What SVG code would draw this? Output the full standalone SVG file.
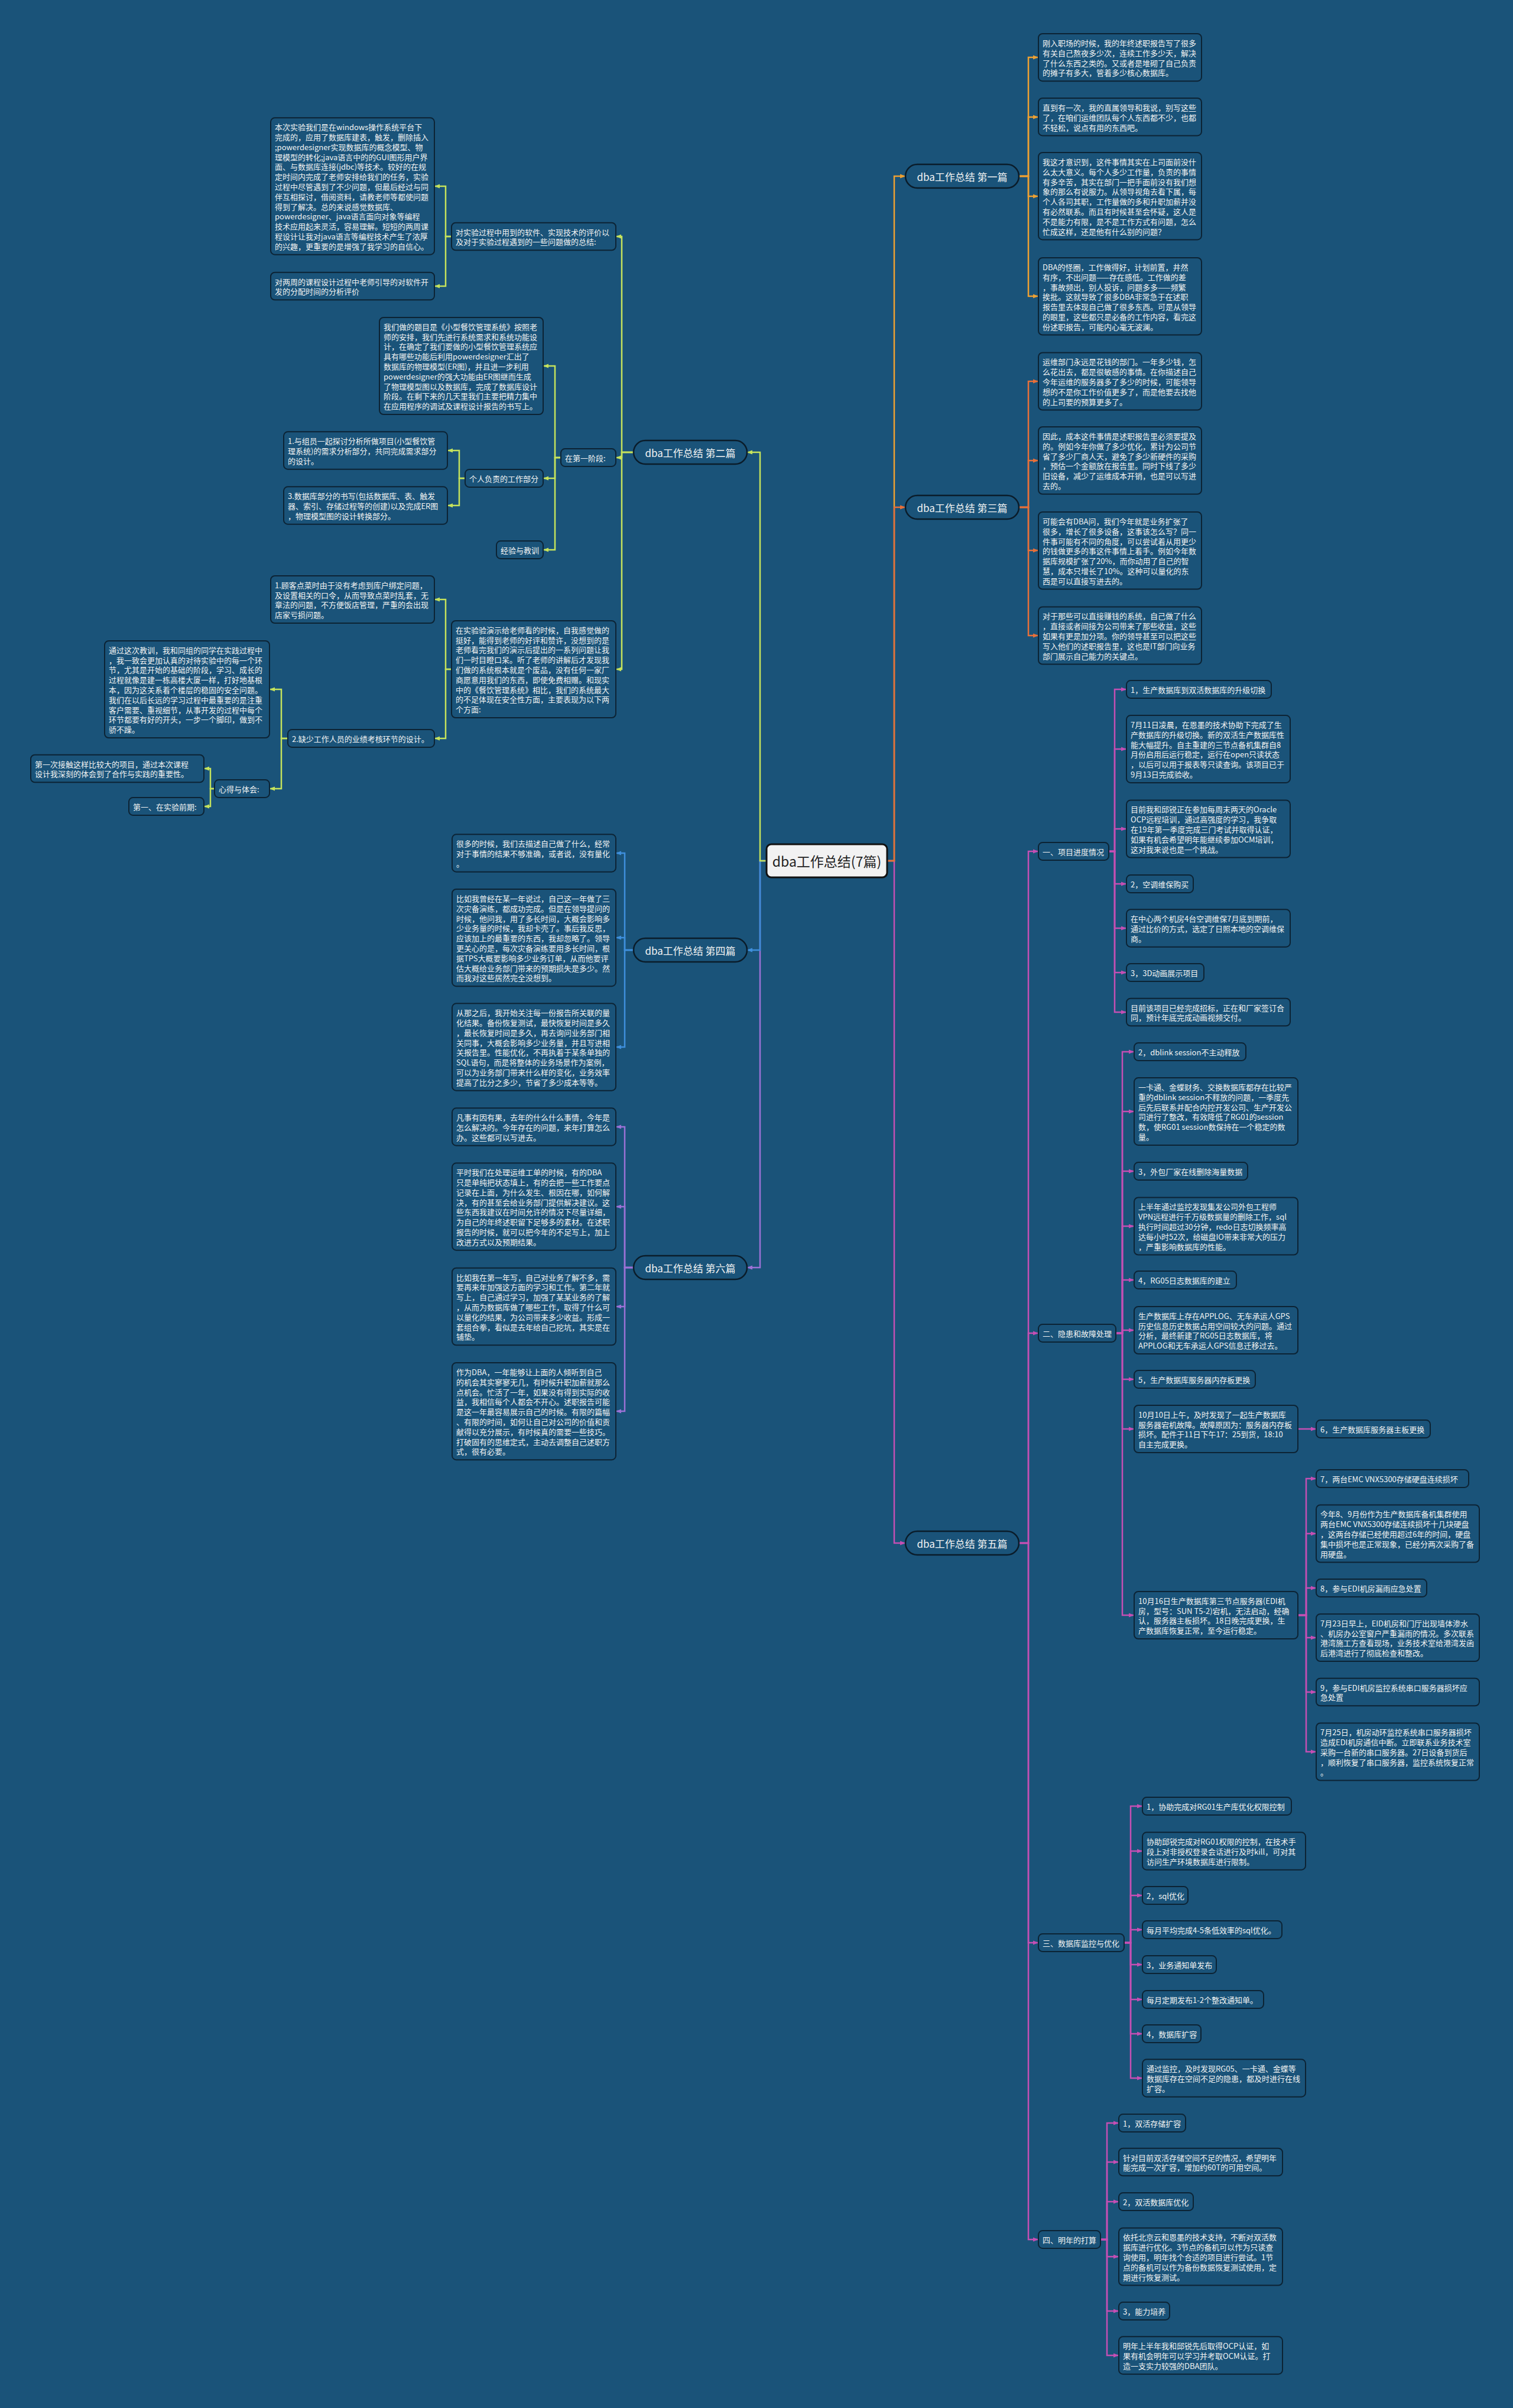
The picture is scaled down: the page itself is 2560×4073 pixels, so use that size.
<svg xmlns="http://www.w3.org/2000/svg" width="2560" height="4073" viewBox="0 0 2560 4073">
<defs>
<style>
.bx{fill:#1a5379;stroke:#0c2334;stroke-width:2}
.pl{fill:#1a5379;stroke:#0a1c2a;stroke-width:2.5}
.tx{font-family:"Noto Sans CJK SC","Noto Sans",sans-serif;font-size:13px;fill:#f3f3f3;dominant-baseline:central}
.pt{font-family:"Noto Sans CJK SC","Noto Sans",sans-serif;font-size:17px;fill:#f3f3f3;dominant-baseline:central;text-anchor:middle}
.c1{fill:none;stroke:#efa132;stroke-width:2.5;marker-end:url(#m1)}
.c2{fill:none;stroke:#c6e35c;stroke-width:2.5;marker-end:url(#m2)}
.c3{fill:none;stroke:#e8703a;stroke-width:2.5;marker-end:url(#m3)}
.c4{fill:none;stroke:#3f8fdc;stroke-width:2.5;marker-end:url(#m4)}
.c5{fill:none;stroke:#c54fb4;stroke-width:2.5;marker-end:url(#m5)}
.c6{fill:none;stroke:#9b72d6;stroke-width:2.5;marker-end:url(#m6)}
</style>
<marker id="m1" viewBox="0 0 10 10" refX="10" refY="5" markerWidth="9" markerHeight="9" markerUnits="userSpaceOnUse" orient="auto"><path d="M0,1L10,5L0,9z" fill="#efa132"/></marker>
<marker id="m2" viewBox="0 0 10 10" refX="10" refY="5" markerWidth="9" markerHeight="9" markerUnits="userSpaceOnUse" orient="auto"><path d="M0,1L10,5L0,9z" fill="#c6e35c"/></marker>
<marker id="m3" viewBox="0 0 10 10" refX="10" refY="5" markerWidth="9" markerHeight="9" markerUnits="userSpaceOnUse" orient="auto"><path d="M0,1L10,5L0,9z" fill="#e8703a"/></marker>
<marker id="m4" viewBox="0 0 10 10" refX="10" refY="5" markerWidth="9" markerHeight="9" markerUnits="userSpaceOnUse" orient="auto"><path d="M0,1L10,5L0,9z" fill="#3f8fdc"/></marker>
<marker id="m5" viewBox="0 0 10 10" refX="10" refY="5" markerWidth="9" markerHeight="9" markerUnits="userSpaceOnUse" orient="auto"><path d="M0,1L10,5L0,9z" fill="#c54fb4"/></marker>
<marker id="m6" viewBox="0 0 10 10" refX="10" refY="5" markerWidth="9" markerHeight="9" markerUnits="userSpaceOnUse" orient="auto"><path d="M0,1L10,5L0,9z" fill="#9b72d6"/></marker>
</defs>
<rect x="0" y="0" width="2560" height="4073" fill="#1a5379"/>

<g id="connectors">
<path class="c5" d="M1501,1456H1513V2610H1532"/>
<path class="c1" d="M1501,1456H1513V298H1532"/>
<path class="c3" d="M1501,1456H1513V858H1532"/>
<path class="c6" d="M1297,1456H1286V2144H1264"/>
<path class="c4" d="M1297,1456H1286V1607H1264"/>
<path class="c2" d="M1297,1456H1286V765H1264"/>
<path class="c1" d="M1724,298H1740V97H1757"/>
<path class="c1" d="M1724,298H1740V198H1757"/>
<path class="c1" d="M1724,298H1740V332H1757"/>
<path class="c1" d="M1724,298H1740V501H1757"/>
<path class="c3" d="M1724,858H1740V645H1757"/>
<path class="c3" d="M1724,858H1740V779H1757"/>
<path class="c3" d="M1724,858H1740V931H1757"/>
<path class="c3" d="M1724,858H1740V1075H1757"/>
<path class="c4" d="M1072,1607H1057V1443H1042"/>
<path class="c4" d="M1072,1607H1057V1586H1042"/>
<path class="c4" d="M1072,1607H1057V1771H1042"/>
<path class="c6" d="M1072,2144H1057V1906H1042"/>
<path class="c6" d="M1072,2144H1057V2041H1042"/>
<path class="c6" d="M1072,2144H1057V2210H1042"/>
<path class="c6" d="M1072,2144H1057V2387H1042"/>
<path class="c2" d="M1072,765H1052V400H1042"/>
<path class="c2" d="M1072,765H1052V774H1042"/>
<path class="c2" d="M1072,765H1052V1132H1042"/>
<path class="c2" d="M764,400H754V315H735"/>
<path class="c2" d="M764,400H754V484H735"/>
<path class="c2" d="M949,774H939V619H919"/>
<path class="c2" d="M949,774H939V809H919"/>
<path class="c2" d="M949,774H939V930H919"/>
<path class="c2" d="M787,809H777V762H757"/>
<path class="c2" d="M787,809H777V855H757"/>
<path class="c2" d="M764,1132H754V1014H735"/>
<path class="c2" d="M764,1132H754V1249H735"/>
<path class="c2" d="M487,1249H476V1166H456"/>
<path class="c2" d="M487,1249H476V1334H456"/>
<path class="c2" d="M363,1334H356V1300H345"/>
<path class="c2" d="M363,1334H356V1364H345"/>
<path class="c5" d="M1724,2610H1740V1440H1757"/>
<path class="c5" d="M1724,2610H1740V2255H1757"/>
<path class="c5" d="M1724,2610H1740V3286H1757"/>
<path class="c5" d="M1724,2610H1740V3788H1757"/>
<path class="c5" d="M1876,1440H1886V1166H1906"/>
<path class="c5" d="M1876,1440H1886V1267H1906"/>
<path class="c5" d="M1876,1440H1886V1402H1906"/>
<path class="c5" d="M1876,1440H1886V1495H1906"/>
<path class="c5" d="M1876,1440H1886V1570H1906"/>
<path class="c5" d="M1876,1440H1886V1645H1906"/>
<path class="c5" d="M1876,1440H1886V1712H1906"/>
<path class="c5" d="M1888,2255H1899V1779H1919"/>
<path class="c5" d="M1888,2255H1899V1880H1919"/>
<path class="c5" d="M1888,2255H1899V1981H1919"/>
<path class="c5" d="M1888,2255H1899V2074H1919"/>
<path class="c5" d="M1888,2255H1899V2165H1919"/>
<path class="c5" d="M1888,2255H1899V2250H1919"/>
<path class="c5" d="M1888,2255H1899V2333H1919"/>
<path class="c5" d="M1888,2255H1899V2417H1919"/>
<path class="c5" d="M1888,2255H1899V2732H1919"/>
<path class="c5" d="M2196,2417H2227"/>
<path class="c5" d="M2196,2732H2210V2501H2227"/>
<path class="c5" d="M2196,2732H2210V2594H2227"/>
<path class="c5" d="M2196,2732H2210V2686H2227"/>
<path class="c5" d="M2196,2732H2210V2770H2227"/>
<path class="c5" d="M2196,2732H2210V2862H2227"/>
<path class="c5" d="M2196,2732H2210V2963H2227"/>
<path class="c5" d="M1902,3286H1913V3055H1933"/>
<path class="c5" d="M1902,3286H1913V3131H1933"/>
<path class="c5" d="M1902,3286H1913V3206H1933"/>
<path class="c5" d="M1902,3286H1913V3264H1933"/>
<path class="c5" d="M1902,3286H1913V3323H1933"/>
<path class="c5" d="M1902,3286H1913V3382H1933"/>
<path class="c5" d="M1902,3286H1913V3440H1933"/>
<path class="c5" d="M1902,3286H1913V3515H1933"/>
<path class="c5" d="M1862,3788H1873V3591H1893"/>
<path class="c5" d="M1862,3788H1873V3657H1893"/>
<path class="c5" d="M1862,3788H1873V3724H1893"/>
<path class="c5" d="M1862,3788H1873V3817H1893"/>
<path class="c5" d="M1862,3788H1873V3909H1893"/>
<path class="c5" d="M1862,3788H1873V3984H1893"/>
</g>

<g id="root"><rect x="1297" y="1428" width="204" height="56" rx="8" fill="#f2f2f2" stroke="#111" stroke-width="3"/><text x="1399" y="1456" font-family="Noto Sans CJK SC, sans-serif" font-size="23" fill="#222" text-anchor="middle" dominant-baseline="central">dba工作总结(7篇)</text></g>

<g id="b1"><rect class="pl" x="1532" y="278" width="192" height="40" rx="20"/><text class="pt" x="1628" y="298">dba工作总结 第一篇</text></g>
<g id="b3"><rect class="pl" x="1532" y="838" width="192" height="40" rx="20"/><text class="pt" x="1628" y="858">dba工作总结 第三篇</text></g>
<g id="b5"><rect class="pl" x="1532" y="2590" width="192" height="40" rx="20"/><text class="pt" x="1628" y="2610">dba工作总结 第五篇</text></g>
<g id="b2"><rect class="pl" x="1072" y="745" width="192" height="40" rx="20"/><text class="pt" x="1168" y="765">dba工作总结 第二篇</text></g>
<g id="b4"><rect class="pl" x="1072" y="1587" width="192" height="40" rx="20"/><text class="pt" x="1168" y="1607">dba工作总结 第四篇</text></g>
<g id="b6"><rect class="pl" x="1072" y="2124" width="192" height="40" rx="20"/><text class="pt" x="1168" y="2144">dba工作总结 第六篇</text></g>

<g id="n1a"><rect class="bx" x="1757" y="57" width="276" height="80.2" rx="7"/><text class="tx" x="1764" y="71.9"><tspan x="1764">刚入职场的时候，我的年终述职报告写了很多</tspan><tspan x="1764" dy="16.8">有关自己熬夜多少次，连续工作多少天，解决</tspan><tspan x="1764" dy="16.8">了什么东西之类的。又或者是堆砌了自己负责</tspan><tspan x="1764" dy="16.8">的摊子有多大，管着多少核心数据库。</tspan></text></g>
<g id="n1b"><rect class="bx" x="1757" y="166" width="276" height="63.4" rx="7"/><text class="tx" x="1764" y="180.9"><tspan x="1764">直到有一次，我的直属领导和我说，别写这些</tspan><tspan x="1764" dy="16.8">了，在咱们运维团队每个人东西都不少，也都</tspan><tspan x="1764" dy="16.8">不轻松，说点有用的东西吧。</tspan></text></g>
<g id="n1c"><rect class="bx" x="1757" y="258" width="276" height="147.4" rx="7"/><text class="tx" x="1764" y="272.9"><tspan x="1764">我这才意识到，这件事情其实在上司面前没什</tspan><tspan x="1764" dy="16.8">么太大意义。每个人多少工作量，负责的事情</tspan><tspan x="1764" dy="16.8">有多辛苦，其实在部门一把手面前没有我们想</tspan><tspan x="1764" dy="16.8">象的那么有说服力。从领导视角去看下属，每</tspan><tspan x="1764" dy="16.8">个人各司其职，工作量做的多和升职加薪并没</tspan><tspan x="1764" dy="16.8">有必然联系。而且有时候甚至会怀疑，这人是</tspan><tspan x="1764" dy="16.8">不是能力有限，是不是工作方式有问题，怎么</tspan><tspan x="1764" dy="16.8">忙成这样，还是他有什么别的问题？</tspan></text></g>
<g id="n1d"><rect class="bx" x="1757" y="436" width="276" height="130.6" rx="7"/><text class="tx" x="1764" y="450.9"><tspan x="1764">DBA的怪圈，工作做得好，计划前置，井然</tspan><tspan x="1764" dy="16.8">有序，不出问题——存在感低。工作做的差</tspan><tspan x="1764" dy="16.8">，事故频出，别人投诉，问题多多——频繁</tspan><tspan x="1764" dy="16.8">挨批。这就导致了很多DBA非常急于在述职</tspan><tspan x="1764" dy="16.8">报告里去体现自己做了很多东西。可是从领导</tspan><tspan x="1764" dy="16.8">的眼里，这些都只是必备的工作内容，看完这</tspan><tspan x="1764" dy="16.8">份述职报告，可能内心毫无波澜。</tspan></text></g>

<g id="n3a"><rect class="bx" x="1757" y="596.5" width="276" height="97" rx="7"/><text class="tx" x="1764" y="611.4"><tspan x="1764">运维部门永远是花钱的部门。一年多少钱，怎</tspan><tspan x="1764" dy="16.8">么花出去，都是很敏感的事情。在你描述自己</tspan><tspan x="1764" dy="16.8">今年运维的服务器多了多少的时候，可能领导</tspan><tspan x="1764" dy="16.8">想的不是你工作价值更多了，而是他要去找他</tspan><tspan x="1764" dy="16.8">的上司要的预算更多了。</tspan></text></g>
<g id="n3b"><rect class="bx" x="1757" y="722" width="276" height="113.8" rx="7"/><text class="tx" x="1764" y="736.9"><tspan x="1764">因此，成本这件事情是述职报告里必须要提及</tspan><tspan x="1764" dy="16.8">的。例如今年你做了多少优化，累计为公司节</tspan><tspan x="1764" dy="16.8">省了多少厂商人天，避免了多少新硬件的采购</tspan><tspan x="1764" dy="16.8">，预估一个金额放在报告里。同时下线了多少</tspan><tspan x="1764" dy="16.8">旧设备，减少了运维成本开销，也是可以写进</tspan><tspan x="1764" dy="16.8">去的。</tspan></text></g>
<g id="n3c"><rect class="bx" x="1757" y="866" width="276" height="130.6" rx="7"/><text class="tx" x="1764" y="880.9"><tspan x="1764">可能会有DBA问，我们今年就是业务扩张了</tspan><tspan x="1764" dy="16.8">很多，增长了很多设备，这事该怎么写？同一</tspan><tspan x="1764" dy="16.8">件事可能有不同的角度，可以尝试着从用更少</tspan><tspan x="1764" dy="16.8">的钱做更多的事这件事情上着手。例如今年数</tspan><tspan x="1764" dy="16.8">据库规模扩张了20%，而你动用了自己的智</tspan><tspan x="1764" dy="16.8">慧，成本只增长了10%。这种可以量化的东</tspan><tspan x="1764" dy="16.8">西是可以直接写进去的。</tspan></text></g>
<g id="n3d"><rect class="bx" x="1757" y="1026.5" width="276" height="97" rx="7"/><text class="tx" x="1764" y="1041.4"><tspan x="1764">对于那些可以直接赚钱的系统，自己做了什么</tspan><tspan x="1764" dy="16.8">，直接或者间接为公司带来了那些收益，这些</tspan><tspan x="1764" dy="16.8">如果有更是加分项。你的领导甚至可以把这些</tspan><tspan x="1764" dy="16.8">写入他们的述职报告里，这也是IT部门向业务</tspan><tspan x="1764" dy="16.8">部门展示自己能力的关键点。</tspan></text></g>

<g id="n4a"><rect class="bx" x="765" y="1411.3" width="277" height="63.4" rx="7"/><text class="tx" x="772" y="1426.2"><tspan x="772">很多的时候，我们去描述自己做了什么，经常</tspan><tspan x="772" dy="16.8">对于事情的结果不够准确，或者说，没有量化</tspan><tspan x="772" dy="16.8">。</tspan></text></g>
<g id="n4b"><rect class="bx" x="765" y="1504" width="277" height="164.2" rx="7"/><text class="tx" x="772" y="1518.9"><tspan x="772">比如我曾经在某一年说过，自己这一年做了三</tspan><tspan x="772" dy="16.8">次灾备演练，都成功完成。但是在领导提问的</tspan><tspan x="772" dy="16.8">时候，他问我，用了多长时间，大概会影响多</tspan><tspan x="772" dy="16.8">少业务量的时候，我却卡壳了。事后我反思，</tspan><tspan x="772" dy="16.8">应该加上的最重要的东西，我却忽略了。领导</tspan><tspan x="772" dy="16.8">更关心的是，每次灾备演练要用多长时间，根</tspan><tspan x="772" dy="16.8">据TPS大概要影响多少业务订单，从而他要评</tspan><tspan x="772" dy="16.8">估大概给业务部门带来的预期损失是多少。然</tspan><tspan x="772" dy="16.8">而我对这些居然完全没想到。</tspan></text></g>
<g id="n4c"><rect class="bx" x="765" y="1697.3" width="277" height="147.4" rx="7"/><text class="tx" x="772" y="1712.2"><tspan x="772">从那之后，我开始关注每一份报告所关联的量</tspan><tspan x="772" dy="16.8">化结果。备份恢复测试，最快恢复时间是多久</tspan><tspan x="772" dy="16.8">，最长恢复时间是多久，再去询问业务部门相</tspan><tspan x="772" dy="16.8">关同事，大概会影响多少业务量，并且写进相</tspan><tspan x="772" dy="16.8">关报告里。性能优化，不再执着于某条单独的</tspan><tspan x="772" dy="16.8">SQL语句，而是将整体的业务场景作为案例，</tspan><tspan x="772" dy="16.8">可以为业务部门带来什么样的变化，业务效率</tspan><tspan x="772" dy="16.8">提高了比分之多少，节省了多少成本等等。</tspan></text></g>

<g id="n6a"><rect class="bx" x="765" y="1874.3" width="277" height="63.4" rx="7"/><text class="tx" x="772" y="1889.2"><tspan x="772">凡事有因有果，去年的什么什么事情，今年是</tspan><tspan x="772" dy="16.8">怎么解决的。今年存在的问题，来年打算怎么</tspan><tspan x="772" dy="16.8">办。这些都可以写进去。</tspan></text></g>
<g id="n6b"><rect class="bx" x="765" y="1967.3" width="277" height="147.4" rx="7"/><text class="tx" x="772" y="1982.2"><tspan x="772">平时我们在处理运维工单的时候，有的DBA</tspan><tspan x="772" dy="16.8">只是单纯把状态填上，有的会把一些工作要点</tspan><tspan x="772" dy="16.8">记录在上面，为什么发生、根因在哪，如何解</tspan><tspan x="772" dy="16.8">决，有的甚至会给业务部门提供解决建议。这</tspan><tspan x="772" dy="16.8">些东西我建议在时间允许的情况下尽量详细，</tspan><tspan x="772" dy="16.8">为自己的年终述职留下足够多的素材。在述职</tspan><tspan x="772" dy="16.8">报告的时候，就可以把今年的不足写上，加上</tspan><tspan x="772" dy="16.8">改进方式以及预期结果。</tspan></text></g>
<g id="n6c"><rect class="bx" x="765" y="2144.7" width="277" height="130.6" rx="7"/><text class="tx" x="772" y="2159.6"><tspan x="772">比如我在第一年写，自己对业务了解不多，需</tspan><tspan x="772" dy="16.8">要再来年加强这方面的学习和工作。第二年就</tspan><tspan x="772" dy="16.8">写上，自己通过学习，加强了某某业务的了解</tspan><tspan x="772" dy="16.8">，从而为数据库做了哪些工作，取得了什么可</tspan><tspan x="772" dy="16.8">以量化的结果，为公司带来多少收益。形成一</tspan><tspan x="772" dy="16.8">套组合拳，看似是去年给自己挖坑，其实是在</tspan><tspan x="772" dy="16.8">铺垫。</tspan></text></g>
<g id="n6d"><rect class="bx" x="765" y="2305" width="277" height="164.2" rx="7"/><text class="tx" x="772" y="2319.9"><tspan x="772">作为DBA，一年能够让上面的人倾听到自己</tspan><tspan x="772" dy="16.8">的机会其实寥寥无几，有时候升职加薪就那么</tspan><tspan x="772" dy="16.8">点机会。忙活了一年，如果没有得到实际的收</tspan><tspan x="772" dy="16.8">益，我相信每个人都会不开心。述职报告可能</tspan><tspan x="772" dy="16.8">是这一年最容易展示自己的时候。有限的篇幅</tspan><tspan x="772" dy="16.8">、有限的时间，如何让自己对公司的价值和贡</tspan><tspan x="772" dy="16.8">献得以充分展示，有时候真的需要一些技巧。</tspan><tspan x="772" dy="16.8">打破固有的思维定式，主动去调整自己述职方</tspan><tspan x="772" dy="16.8">式，很有必要。</tspan></text></g>

<g id="n2a"><rect class="bx" x="764" y="376.7" width="278" height="46.6" rx="7"/><text class="tx" x="771" y="391.6"><tspan x="771">对实验过程中用到的软件、实现技术的评价以</tspan><tspan x="771" dy="16.8">及对于实验过程遇到的一些问题做的总结:</tspan></text></g>
<g id="n2a1"><rect class="bx" x="458" y="199.3" width="277" height="231.4" rx="7"/><text class="tx" x="465" y="214.2"><tspan x="465">本次实验我们是在windows操作系统平台下</tspan><tspan x="465" dy="16.8">完成的，应用了数据库建表，触发，删除插入</tspan><tspan x="465" dy="16.8">;powerdesigner实现数据库的概念模型、物</tspan><tspan x="465" dy="16.8">理模型的转化;java语言中的的GUI图形用户界</tspan><tspan x="465" dy="16.8">面、与数据库连接(jdbc)等技术。较好的在规</tspan><tspan x="465" dy="16.8">定时间内完成了老师安排给我们的任务，实验</tspan><tspan x="465" dy="16.8">过程中尽管遇到了不少问题，但最后经过与同</tspan><tspan x="465" dy="16.8">伴互相探讨，借阅资料，请教老师等都使问题</tspan><tspan x="465" dy="16.8">得到了解决。总的来说感觉数据库、</tspan><tspan x="465" dy="16.8">powerdesigner、java语言面向对象等编程</tspan><tspan x="465" dy="16.8">技术应用起来灵活，容易理解。短短的两周课</tspan><tspan x="465" dy="16.8">程设计让我对java语言等编程技术产生了浓厚</tspan><tspan x="465" dy="16.8">的兴趣，更重要的是增强了我学习的自信心。</tspan></text></g>
<g id="n2a2"><rect class="bx" x="458" y="460.7" width="277" height="46.6" rx="7"/><text class="tx" x="465" y="475.6"><tspan x="465">对两周的课程设计过程中老师引导的对软件开</tspan><tspan x="465" dy="16.8">发的分配时间的分析评价</tspan></text></g>
<g id="n2b"><rect class="bx" x="949" y="759.1" width="93" height="29.8" rx="7"/><text class="tx" x="956" y="774">在第一阶段:</text></g>
<g id="n2b1"><rect class="bx" x="642" y="536.9" width="277" height="164.2" rx="7"/><text class="tx" x="649" y="551.8"><tspan x="649">我们做的题目是《小型餐饮管理系统》按照老</tspan><tspan x="649" dy="16.8">师的安排，我们先进行系统需求和系统功能设</tspan><tspan x="649" dy="16.8">计，在确定了我们要做的小型餐饮管理系统应</tspan><tspan x="649" dy="16.8">具有哪些功能后利用powerdesigner汇出了</tspan><tspan x="649" dy="16.8">数据库的物理模型(ER图)，并且进一步利用</tspan><tspan x="649" dy="16.8">powerdesigner的强大功能由ER图继而生成</tspan><tspan x="649" dy="16.8">了物理模型图以及数据库，完成了数据库设计</tspan><tspan x="649" dy="16.8">阶段。在剩下来的几天里我们主要把精力集中</tspan><tspan x="649" dy="16.8">在应用程序的调试及课程设计报告的书写上。</tspan></text></g>
<g id="n2b2"><rect class="bx" x="787" y="794.1" width="132" height="29.8" rx="7"/><text class="tx" x="794" y="809">个人负责的工作部分</text></g>
<g id="n2b2a"><rect class="bx" x="480" y="730.3" width="277" height="63.4" rx="7"/><text class="tx" x="487" y="745.2"><tspan x="487">1.与组员一起探讨分析所做项目(小型餐饮管</tspan><tspan x="487" dy="16.8">理系统)的需求分析部分，共同完成需求部分</tspan><tspan x="487" dy="16.8">的设计。</tspan></text></g>
<g id="n2b2b"><rect class="bx" x="480" y="823.3" width="277" height="63.4" rx="7"/><text class="tx" x="487" y="838.2"><tspan x="487">3.数据库部分的书写(包括数据库、表、触发</tspan><tspan x="487" dy="16.8">器、索引、存储过程等的创建)以及完成ER图</tspan><tspan x="487" dy="16.8">，物理模型图的设计转换部分。</tspan></text></g>
<g id="n2b3"><rect class="bx" x="840" y="915.1" width="79" height="29.8" rx="7"/><text class="tx" x="847" y="930">经验与教训</text></g>
<g id="n2c"><rect class="bx" x="764" y="1049.9" width="278" height="164.2" rx="7"/><text class="tx" x="771" y="1064.8"><tspan x="771">在实验验演示给老师看的时候，自我感觉做的</tspan><tspan x="771" dy="16.8">挺好，能得到老师的好评和赞许，没想到的是</tspan><tspan x="771" dy="16.8">老师看完我们的演示后提出的一系列问题让我</tspan><tspan x="771" dy="16.8">们一时目瞪口呆。听了老师的讲解后才发现我</tspan><tspan x="771" dy="16.8">们做的系统根本就是个废品，没有任何一家厂</tspan><tspan x="771" dy="16.8">商愿意用我们的东西，即使免费相赠。和现实</tspan><tspan x="771" dy="16.8">中的《餐饮管理系统》相比，我们的系统最大</tspan><tspan x="771" dy="16.8">的不足体现在安全性方面，主要表现为以下两</tspan><tspan x="771" dy="16.8">个方面:</tspan></text></g>
<g id="n2c1"><rect class="bx" x="458" y="973.9" width="277" height="80.2" rx="7"/><text class="tx" x="465" y="988.8"><tspan x="465">1.顾客点菜时由于没有考虑到库户绑定问题，</tspan><tspan x="465" dy="16.8">及设置相关的口令，从而导致点菜时乱套，无</tspan><tspan x="465" dy="16.8">章法的问题，不方便饭店管理，严重的会出现</tspan><tspan x="465" dy="16.8">店家亏损问题。</tspan></text></g>
<g id="n2c2"><rect class="bx" x="487" y="1234.1" width="248" height="29.8" rx="7"/><text class="tx" x="494" y="1249">2.缺少工作人员的业绩考核环节的设计。</text></g>
<g id="n2c2a"><rect class="bx" x="177" y="1083.9" width="279" height="164.2" rx="7"/><text class="tx" x="184" y="1098.8"><tspan x="184">通过这次教训，我和同组的同学在实践过程中</tspan><tspan x="184" dy="16.8">，我一致会更加认真的对待实验中的每一个环</tspan><tspan x="184" dy="16.8">节，尤其是开始的基础的阶段，学习、成长的</tspan><tspan x="184" dy="16.8">过程就像是建一栋高楼大厦一样，打好地基根</tspan><tspan x="184" dy="16.8">本，因为这关系着个楼层的稳固的安全问题。</tspan><tspan x="184" dy="16.8">我们在以后长远的学习过程中最重要的是注重</tspan><tspan x="184" dy="16.8">客户需要、重视细节，从事开发的过程中每个</tspan><tspan x="184" dy="16.8">环节都要有好的开头，一步一个脚印，做到不</tspan><tspan x="184" dy="16.8">骄不躁。</tspan></text></g>
<g id="n2c2b"><rect class="bx" x="363" y="1319.1" width="93" height="29.8" rx="7"/><text class="tx" x="370" y="1334">心得与体会:</text></g>
<g id="n2c2b1"><rect class="bx" x="52" y="1276.7" width="293" height="46.6" rx="7"/><text class="tx" x="59" y="1291.6"><tspan x="59">第一次接触这样比较大的项目，通过本次课程</tspan><tspan x="59" dy="16.8">设计我深刻的体会到了合作与实践的重要性。</tspan></text></g>
<g id="n2c2b2"><rect class="bx" x="218" y="1349.1" width="127" height="29.8" rx="7"/><text class="tx" x="225" y="1364">第一、在实验前期:</text></g>

<g id="s1"><rect class="bx" x="1757" y="1425.1" width="119" height="29.8" rx="7"/><text class="tx" x="1764" y="1440">一、项目进度情况</text></g>
<g id="s1a"><rect class="bx" x="1906" y="1151.1" width="245" height="29.8" rx="7"/><text class="tx" x="1913" y="1166">1，生产数据库到双活数据库的升级切换</text></g>
<g id="s1b"><rect class="bx" x="1906" y="1210.1" width="277" height="113.8" rx="7"/><text class="tx" x="1913" y="1225"><tspan x="1913">7月11日凌晨，在恩墨的技术协助下完成了生</tspan><tspan x="1913" dy="16.8">产数据库的升级切换。新的双活生产数据库性</tspan><tspan x="1913" dy="16.8">能大幅提升。自主重建的三节点备机集群自8</tspan><tspan x="1913" dy="16.8">月份启用后运行稳定，运行在open只读状态</tspan><tspan x="1913" dy="16.8">，以后可以用于报表等只读查询。该项目已于</tspan><tspan x="1913" dy="16.8">9月13日完成验收。</tspan></text></g>
<g id="s1c"><rect class="bx" x="1906" y="1353.5" width="277" height="97" rx="7"/><text class="tx" x="1913" y="1368.4"><tspan x="1913">目前我和邱锐正在参加每周末两天的Oracle</tspan><tspan x="1913" dy="16.8">OCP远程培训，通过高强度的学习，我争取</tspan><tspan x="1913" dy="16.8">在19年第一季度完成三门考试并取得认证，</tspan><tspan x="1913" dy="16.8">如果有机会希望明年能继续参加OCM培训，</tspan><tspan x="1913" dy="16.8">这对我来说也是一个挑战。</tspan></text></g>
<g id="s1d"><rect class="bx" x="1906" y="1480.1" width="113" height="29.8" rx="7"/><text class="tx" x="1913" y="1495">2，空调维保购买</text></g>
<g id="s1e"><rect class="bx" x="1906" y="1538.3" width="277" height="63.4" rx="7"/><text class="tx" x="1913" y="1553.2"><tspan x="1913">在中心两个机房4台空调维保7月底到期前，</tspan><tspan x="1913" dy="16.8">通过比价的方式，选定了日照本地的空调维保</tspan><tspan x="1913" dy="16.8">商。</tspan></text></g>
<g id="s1f"><rect class="bx" x="1906" y="1630.1" width="131" height="29.8" rx="7"/><text class="tx" x="1913" y="1645">3，3D动画展示项目</text></g>
<g id="s1g"><rect class="bx" x="1906" y="1688.7" width="277" height="46.6" rx="7"/><text class="tx" x="1913" y="1703.6"><tspan x="1913">目前该项目已经完成招标，正在和厂家签订合</tspan><tspan x="1913" dy="16.8">同，预计年底完成动画视频交付。</tspan></text></g>

<g id="s2"><rect class="bx" x="1757" y="2240.1" width="131" height="29.8" rx="7"/><text class="tx" x="1764" y="2255">二、隐患和故障处理</text></g>
<g id="s2a"><rect class="bx" x="1919" y="1764.1" width="189" height="29.8" rx="7"/><text class="tx" x="1926" y="1779">2，dblink session不主动释放</text></g>
<g id="s2b"><rect class="bx" x="1919" y="1823.1" width="277" height="113.8" rx="7"/><text class="tx" x="1926" y="1838"><tspan x="1926">一卡通、金蝶财务、交换数据库都存在比较严</tspan><tspan x="1926" dy="16.8">重的dblink session不释放的问题，一季度先</tspan><tspan x="1926" dy="16.8">后先后联系并配合内控开发公司、生产开发公</tspan><tspan x="1926" dy="16.8">司进行了整改，有效降低了RG01的session</tspan><tspan x="1926" dy="16.8">数，使RG01 session数保持在一个稳定的数</tspan><tspan x="1926" dy="16.8">量。</tspan></text></g>
<g id="s2c"><rect class="bx" x="1919" y="1966.1" width="192" height="29.8" rx="7"/><text class="tx" x="1926" y="1981">3，外包厂家在线删除海量数据</text></g>
<g id="s2d"><rect class="bx" x="1919" y="2025.5" width="277" height="97" rx="7"/><text class="tx" x="1926" y="2040.4"><tspan x="1926">上半年通过监控发现集发公司外包工程师</tspan><tspan x="1926" dy="16.8">VPN远程进行千万级数据量的删除工作，sql</tspan><tspan x="1926" dy="16.8">执行时间超过30分钟，redo日志切换频率高</tspan><tspan x="1926" dy="16.8">达每小时52次，给磁盘IO带来非常大的压力</tspan><tspan x="1926" dy="16.8">，严重影响数据库的性能。</tspan></text></g>
<g id="s2e"><rect class="bx" x="1919" y="2150.1" width="173" height="29.8" rx="7"/><text class="tx" x="1926" y="2165">4，RG05日志数据库的建立</text></g>
<g id="s2f"><rect class="bx" x="1919" y="2209.9" width="277" height="80.2" rx="7"/><text class="tx" x="1926" y="2224.8"><tspan x="1926">生产数据库上存在APPLOG、无车承运人GPS</tspan><tspan x="1926" dy="16.8">历史信息历史数据占用空间较大的问题。通过</tspan><tspan x="1926" dy="16.8">分析，最终新建了RG05日志数据库，将</tspan><tspan x="1926" dy="16.8">APPLOG和无车承运人GPS信息迁移过去。</tspan></text></g>
<g id="s2g"><rect class="bx" x="1919" y="2318.1" width="205" height="29.8" rx="7"/><text class="tx" x="1926" y="2333">5，生产数据库服务器内存板更换</text></g>
<g id="s2h"><rect class="bx" x="1919" y="2376.9" width="277" height="80.2" rx="7"/><text class="tx" x="1926" y="2391.8"><tspan x="1926">10月10日上午，及时发现了一起生产数据库</tspan><tspan x="1926" dy="16.8">服务器宕机故障。故障原因为：服务器内存板</tspan><tspan x="1926" dy="16.8">损坏。配件于11日下午17：25到货，18:10</tspan><tspan x="1926" dy="16.8">自主完成更换。</tspan></text></g>
<g id="s2h1"><rect class="bx" x="2227" y="2402.1" width="193" height="29.8" rx="7"/><text class="tx" x="2234" y="2417">6，生产数据库服务器主板更换</text></g>
<g id="s2i"><rect class="bx" x="1919" y="2691.9" width="277" height="80.2" rx="7"/><text class="tx" x="1926" y="2706.8"><tspan x="1926">10月16日生产数据库第三节点服务器(EDI机</tspan><tspan x="1926" dy="16.8">房，型号：SUN T5-2)宕机，无法启动，经确</tspan><tspan x="1926" dy="16.8">认，服务器主板损坏。18日晚完成更换，生</tspan><tspan x="1926" dy="16.8">产数据库恢复正常，至今运行稳定。</tspan></text></g>
<g id="s2i1"><rect class="bx" x="2227" y="2486.1" width="258" height="29.8" rx="7"/><text class="tx" x="2234" y="2501">7，两台EMC VNX5300存储硬盘连续损坏</text></g>
<g id="s2i2"><rect class="bx" x="2227" y="2545.5" width="276" height="97" rx="7"/><text class="tx" x="2234" y="2560.4"><tspan x="2234">今年8、9月份作为生产数据库备机集群使用</tspan><tspan x="2234" dy="16.8">两台EMC VNX5300存储连续损坏十几块硬盘</tspan><tspan x="2234" dy="16.8">，这两台存储已经使用超过6年的时间，硬盘</tspan><tspan x="2234" dy="16.8">集中损坏也是正常现象，已经分两次采购了备</tspan><tspan x="2234" dy="16.8">用硬盘。</tspan></text></g>
<g id="s2i3"><rect class="bx" x="2227" y="2671.1" width="187" height="29.8" rx="7"/><text class="tx" x="2234" y="2686">8，参与EDI机房漏雨应急处置</text></g>
<g id="s2i4"><rect class="bx" x="2227" y="2729.9" width="276" height="80.2" rx="7"/><text class="tx" x="2234" y="2744.8"><tspan x="2234">7月23日早上，EID机房和门厅出现墙体渗水</tspan><tspan x="2234" dy="16.8">、机房办公室窗户严重漏雨的情况。多次联系</tspan><tspan x="2234" dy="16.8">港湾施工方查看现场，业务技术室给港湾发函</tspan><tspan x="2234" dy="16.8">后港湾进行了彻底检查和整改。</tspan></text></g>
<g id="s2i5"><rect class="bx" x="2227" y="2838.7" width="276" height="46.6" rx="7"/><text class="tx" x="2234" y="2853.6"><tspan x="2234">9，参与EDI机房监控系统串口服务器损坏应</tspan><tspan x="2234" dy="16.8">急处置</tspan></text></g>
<g id="s2i6"><rect class="bx" x="2227" y="2914.5" width="276" height="97" rx="7"/><text class="tx" x="2234" y="2929.4"><tspan x="2234">7月25日，机房动环监控系统串口服务器损坏</tspan><tspan x="2234" dy="16.8">造成EDI机房通信中断。立即联系业务技术室</tspan><tspan x="2234" dy="16.8">采购一台新的串口服务器。27日设备到货后</tspan><tspan x="2234" dy="16.8">，顺利恢复了串口服务器，监控系统恢复正常</tspan><tspan x="2234" dy="16.8">。</tspan></text></g>

<g id="s3"><rect class="bx" x="1757" y="3271.1" width="145" height="29.8" rx="7"/><text class="tx" x="1764" y="3286">三、数据库监控与优化</text></g>
<g id="s3a"><rect class="bx" x="1933" y="3040.1" width="252" height="29.8" rx="7"/><text class="tx" x="1940" y="3055">1，协助完成对RG01生产库优化权限控制</text></g>
<g id="s3b"><rect class="bx" x="1933" y="3099.3" width="276" height="63.4" rx="7"/><text class="tx" x="1940" y="3114.2"><tspan x="1940">协助邱锐完成对RG01权限的控制，在技术手</tspan><tspan x="1940" dy="16.8">段上对非授权登录会话进行及时kill，可对其</tspan><tspan x="1940" dy="16.8">访问生产环境数据库进行限制。</tspan></text></g>
<g id="s3c"><rect class="bx" x="1933" y="3191.1" width="77" height="29.8" rx="7"/><text class="tx" x="1940" y="3206">2，sql优化</text></g>
<g id="s3d"><rect class="bx" x="1933" y="3249.1" width="236" height="29.8" rx="7"/><text class="tx" x="1940" y="3264">每月平均完成4-5条低效率的sql优化。</text></g>
<g id="s3e"><rect class="bx" x="1933" y="3308.1" width="125" height="29.8" rx="7"/><text class="tx" x="1940" y="3323">3，业务通知单发布</text></g>
<g id="s3f"><rect class="bx" x="1933" y="3367.1" width="205" height="29.8" rx="7"/><text class="tx" x="1940" y="3382">每月定期发布1-2个整改通知单。</text></g>
<g id="s3g"><rect class="bx" x="1933" y="3425.1" width="99" height="29.8" rx="7"/><text class="tx" x="1940" y="3440">4，数据库扩容</text></g>
<g id="s3h"><rect class="bx" x="1933" y="3483.3" width="276" height="63.4" rx="7"/><text class="tx" x="1940" y="3498.2"><tspan x="1940">通过监控，及时发现RG05、一卡通、金蝶等</tspan><tspan x="1940" dy="16.8">数据库存在空间不足的隐患，都及时进行在线</tspan><tspan x="1940" dy="16.8">扩容。</tspan></text></g>

<g id="s4"><rect class="bx" x="1757" y="3773.1" width="105" height="29.8" rx="7"/><text class="tx" x="1764" y="3788">四、明年的打算</text></g>
<g id="s4a"><rect class="bx" x="1893" y="3576.1" width="113" height="29.8" rx="7"/><text class="tx" x="1900" y="3591">1，双活存储扩容</text></g>
<g id="s4b"><rect class="bx" x="1893" y="3633.7" width="277" height="46.6" rx="7"/><text class="tx" x="1900" y="3648.6"><tspan x="1900">针对目前双活存储空间不足的情况，希望明年</tspan><tspan x="1900" dy="16.8">能完成一次扩容，增加约60T的可用空间。</tspan></text></g>
<g id="s4c"><rect class="bx" x="1893" y="3709.1" width="126" height="29.8" rx="7"/><text class="tx" x="1900" y="3724">2，双活数据库优化</text></g>
<g id="s4d"><rect class="bx" x="1893" y="3768.5" width="277" height="97" rx="7"/><text class="tx" x="1900" y="3783.4"><tspan x="1900">依托北京云和恩墨的技术支持，不断对双活数</tspan><tspan x="1900" dy="16.8">据库进行优化。3节点的备机可以作为只读查</tspan><tspan x="1900" dy="16.8">询使用，明年找个合适的项目进行尝试。1节</tspan><tspan x="1900" dy="16.8">点的备机可以作为备份数据恢复测试使用，定</tspan><tspan x="1900" dy="16.8">期进行恢复测试。</tspan></text></g>
<g id="s4e"><rect class="bx" x="1893" y="3894.1" width="86" height="29.8" rx="7"/><text class="tx" x="1900" y="3909">3，能力培养</text></g>
<g id="s4f"><rect class="bx" x="1893" y="3952.3" width="277" height="63.4" rx="7"/><text class="tx" x="1900" y="3967.2"><tspan x="1900">明年上半年我和邱锐先后取得OCP认证，如</tspan><tspan x="1900" dy="16.8">果有机会明年可以学习并考取OCM认证。打</tspan><tspan x="1900" dy="16.8">造一支实力较强的DBA团队。</tspan></text></g>
</svg>
